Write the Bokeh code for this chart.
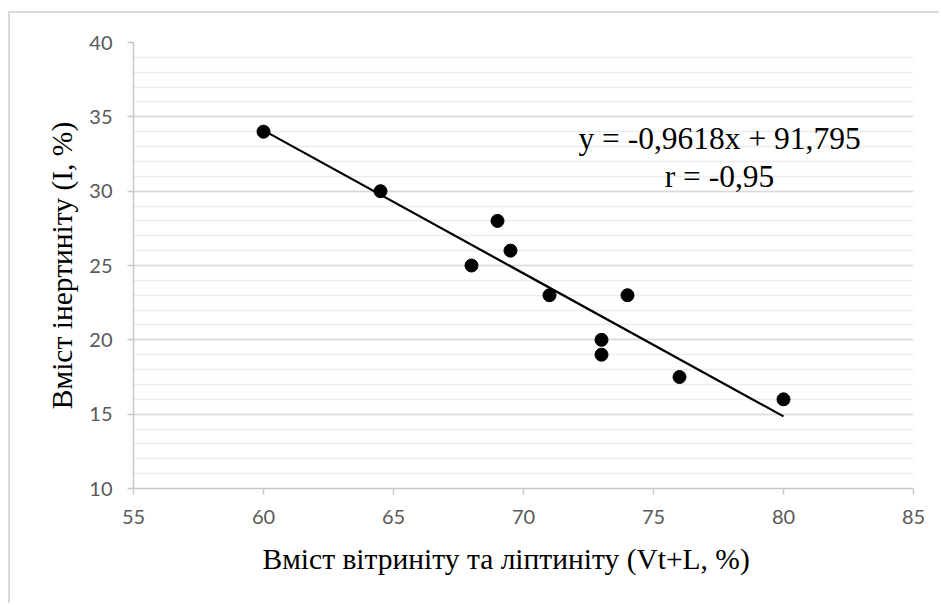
from bokeh.plotting import figure
from bokeh.models import Range1d, FixedTicker, Label, Title
from bokeh.embed import file_html
from bokeh.resources import INLINE

# Vitrinite + liptinite content vs inertinite content, %
vt_l = [60, 64.5, 68, 69, 69.5, 71, 73, 73, 74, 76, 80]
inertinite = [34, 30, 25, 28, 26, 23, 20, 19, 23, 17.5, 16]

# linear trend: y = slope * x + intercept
trend_slope = -0.9618
trend_intercept = 91.795
r_value = -0.95

x_ticks = [55, 60, 65, 70, 75, 80, 85]
y_ticks = [10, 15, 20, 25, 30, 35, 40]
y_minor = list(range(10, 41))

x_title = "Вміст вітриніту та ліптиніту (Vt+L, %)"
y_title = "Вміст інертиніту (I, %)"

GRID_MAJOR = "#d9d9d9"
GRID_MINOR = "#ececec"
AXIS_GRAY = "#c8c8c8"
TICK_TEXT = "#595959"
SANS = "Lato"
SERIF = "Liberation Serif"

p = figure(
    width=931, height=592,
    x_range=Range1d(55, 85), y_range=Range1d(10, 40),
    output_backend="svg", toolbar_location=None,
    min_border_left=123, min_border_right=28,
    min_border_top=29, min_border_bottom=117,
)
p.margin = (13, 0, 0, 10)
p.styles = {"box-shadow": "-2px -2px 0 0 #d9d9d9"}
p.outline_line_color = None
p.background_fill_color = "white"
p.border_fill_color = "white"

# axes
p.xaxis.ticker = FixedTicker(ticks=x_ticks)
p.yaxis.ticker = FixedTicker(ticks=y_ticks, minor_ticks=y_minor)
for ax in (p.xaxis[0], p.yaxis[0]):
    ax.axis_line_color = AXIS_GRAY
    ax.axis_line_width = 1.5
    ax.major_tick_line_color = AXIS_GRAY
    ax.major_tick_line_width = 1.5
    ax.major_tick_in = 0
    ax.major_tick_out = 6
    ax.minor_tick_in = 0
    ax.minor_tick_out = 0
    ax.major_label_text_font = SANS
    ax.major_label_text_font_size = "20px"
    ax.major_label_text_color = TICK_TEXT
    ax.axis_label_text_font = SERIF
    ax.axis_label_text_font_size = "29.5px"
    ax.axis_label_text_font_style = "normal"
    ax.axis_label_text_color = "black"

p.yaxis.axis_label = y_title
p.xaxis.major_label_standoff = 15
p.yaxis.major_label_standoff = 15
p.yaxis.axis_label_standoff = 8

# x-axis title, starting a fixed distance in from the frame's left edge
p.add_layout(Title(text=x_title, align="left", offset=129, standoff=28,
                   text_font=SERIF, text_font_size="29.5px",
                   text_font_style="normal", text_color="black"), "below")

# grids: horizontal only, major every 5 and minor every 1
p.xgrid.grid_line_color = None
p.ygrid.grid_line_color = GRID_MAJOR
p.ygrid.grid_line_width = 1.5
p.ygrid.minor_grid_line_color = GRID_MINOR
p.ygrid.minor_grid_line_width = 1.5

# trend line over the data extent
x0, x1 = min(vt_l), max(vt_l)
p.line([x0, x1],
       [trend_slope * x0 + trend_intercept, trend_slope * x1 + trend_intercept],
       line_color="black", line_width=2.2)

# observations
p.scatter(vt_l, inertinite, size=13, marker="circle",
          fill_color="black", line_color="black")

# equation and correlation labels
eq_text = "y = {:.4f}x + {:.3f}".format(trend_slope, trend_intercept).replace(".", ",")
r_text = "r = {:.2f}".format(r_value).replace(".", ",")
for txt, yy in ((eq_text, 33.54), (r_text, 30.98)):
    p.add_layout(Label(x=77.54, y=yy, text=txt, text_align="center",
                       text_baseline="alphabetic", text_font=SERIF,
                       text_font_size="31.5px", text_color="black"))

open("out.html", "w").write(file_html(p, INLINE))
